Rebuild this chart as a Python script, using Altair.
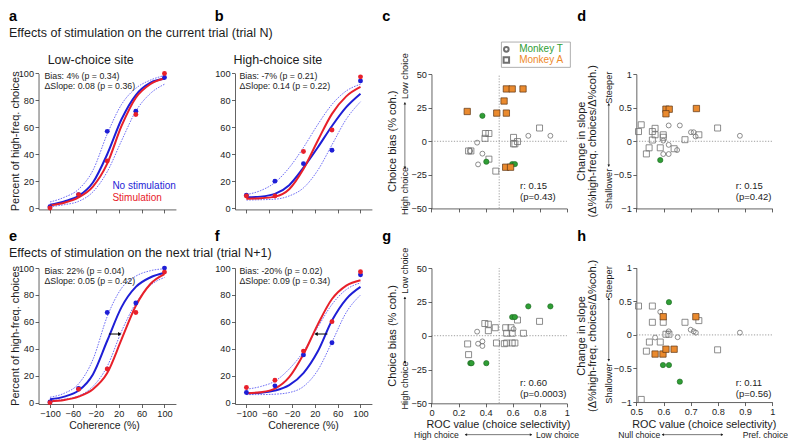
import altair as alt
import pandas as pd

# ------------------------------------------------------------------ data
coherence = [-100, -50, 0, 50, 100]
fit_coherence = [-100, -75, -50, -25, 0, 25, 50, 75, 100]

# (a) low-choice site, current trial
a_no_stim = [1, 10, 57, 72, 97]
a_stim = [0, 10, 35, 69.5, 100]
a_fit_no_stim = [2.5, 5, 9, 19, 40, 66, 84, 93, 96]
a_fit_stim = [2, 4, 8, 16, 33, 61, 82, 92, 96.5]
a_ci_upper = [4.5, 8, 14, 28, 55, 77, 89, 95, 98.5]
a_ci_lower = [1, 2.5, 5, 12, 27, 50, 72, 85, 92]

# (b) high-choice site, current trial
b_no_stim = [9.5, 20, 33, 43, 94.5]
b_stim = [9, 9, 42, 58, 97.5]
b_fit_no_stim = [8, 8.5, 10.5, 17, 30, 45, 61, 75, 85]
b_fit_stim = [7, 7.3, 8.5, 14, 29, 50, 70, 83, 90]
b_ci_upper = [10, 13, 19, 30, 45, 62, 77, 87, 92]
b_ci_lower = [6, 6.2, 6.6, 9, 15, 28, 47, 66, 79]

# (e) low-choice site, next trial
e_no_stim = [0.5, 10.5, 67, 74, 100]
e_stim = [0, 10, 25, 67, 97]
e_fit_no_stim = [2.5, 4.5, 9, 21, 46, 71, 86, 93, 96.5]
e_fit_stim = [1, 2, 4.5, 10, 22, 47, 72, 88, 95.5]
e_ci_upper = [4, 7, 14, 32, 64, 85, 94, 98, 99.5]
e_ci_lower = [1.5, 2.5, 5, 12, 27, 53, 74, 87, 93]
e_arrow_from, e_arrow_to, e_arrow_level = 3, 22, 51

# (f) high-choice site, next trial
f_no_stim = [7.5, 12.5, 35.5, 44.5, 95]
f_stim = [11.3, 16.6, 38.3, 60.2, 97.3]
f_fit_no_stim = [7, 7.4, 9, 13, 22, 38, 61, 77, 86]
f_fit_stim = [7, 7.8, 10.5, 19, 36, 58, 77, 87, 91]
f_ci_upper = [10, 12, 16, 25, 38, 56, 73, 84, 89]
f_ci_lower = [6, 6, 6.3, 7.5, 12, 24, 45, 67, 80]
f_arrow_from, f_arrow_to, f_arrow_level = 42, 22, 51

# (c) choice bias vs ROC, current trial
c_T_roc = [0.337, 0.286, 0.376, 0.344, 0.715, 0.878]
c_T_bias = [-1, -7.2, -9.2, -17.2, 4.1, 4.1]
c_A_roc = [0.274, 0.291, 0.398, 0.424, 0.395, 0.424, 0.475, 0.606, 0.606, 0.635, 0.616, 0.798]
c_A_bias = [-7.2, -7.2, 5.8, 5.8, 2.2, -13.3, -22.2, 2.9, -1.9, -0.2, -1.9, 9.9]
c_Tsig_roc = [0.376, 0.405, 0.596, 0.616]
c_Tsig_bias = [19, -15.2, -17, -17]
c_Asig_roc = [0.264, 0.482, 0.553, 0.536, 0.553, 0.596, 0.676, 0.548, 0.584]
c_Asig_bias = [22.2, 21, 21, 30, 39, 39, 39, -19.3, -19.3]

# (d) change in slope vs ROC, current trial
d_T_roc = [0.619, 0.66, 0.701, 0.711, 0.718, 0.599, 0.619, 0.599, 0.619, 0.65, 0.881]
d_T_slope = [0.236, 0.236, 0.135, 0.135, 0.072, 0.01, -0.053, -0.19, -0.19, -0.13, 0.082]
d_A_roc = [0.518, 0.508, 0.559, 0.569, 0.569, 0.559, 0.599, 0.599, 0.547, 0.537, 0.588, 0.639, 0.679, 0.73, 0.799]
d_A_slope = [0.246, 0.145, 0.145, 0.193, 0.097, 0.019, 0.097, 0.06, -0.097, -0.188, -0.097, -0.111, 0.024, 0.097, 0.198]
d_Tsig_roc = [0.588]
d_Tsig_slope = [-0.28]
d_Asig_roc = [0.609, 0.621, 0.609, 0.721]
d_Asig_slope = [0.478, 0.478, 0.41, 0.488]

# (g) choice bias vs ROC, next trial
g_T_roc = [0.337, 0.344, 0.376, 0.376, 0.606]
g_T_bias = [3, -5.9, -4.2, -7.6, 4.9]
g_A_roc = [0.267, 0.274, 0.394, 0.42, 0.42, 0.471, 0.48, 0.548, 0.555, 0.587, 0.596, 0.555, 0.538, 0.596, 0.616, 0.635, 0.679, 0.798]
g_A_bias = [-6.1, -14, 9, 8.5, 3.7, 5.9, -5.4, 5.9, 1.8, 5.9, 1.8, -5.4, -5.9, -5.4, -5.4, 11.6, 1.8, 10.6]
g_Tsig_roc = [0.287, 0.296, 0.405, 0.596, 0.616, 0.715, 0.878]
g_Tsig_bias = [-20.3, -20.3, -20.3, 13.8, 13.8, 21.7, 21.7]
g_Asig_roc = []
g_Asig_bias = []

# (h) change in slope vs ROC, next trial
h_T_roc = [0.588, 0.619, 0.7, 0.711, 0.719, 0.652, 0.881, 0.569]
h_T_slope = [0.343, 0.053, 0.077, 0.053, 0.034, -0.034, 0.034, -0.039]
h_A_roc = [0.508, 0.559, 0.559, 0.599, 0.679, 0.73, 0.609, 0.62, 0.548, 0.588, 0.537, 0.799, 0.518]
h_A_slope = [0.43, 0.43, 0.188, 0.188, 0.188, 0.213, 0.01, 0.01, -0.106, -0.106, -0.242, -0.222, -0.961]
h_Tsig_roc = [0.62, 0.598, 0.62, 0.66]
h_Tsig_slope = [0.488, -0.449, -0.449, -0.696]
h_Asig_roc = [0.599, 0.719, 0.569, 0.598, 0.609, 0.639]
h_Asig_slope = [0.271, 0.271, -0.285, -0.285, -0.213, -0.213]

# tick values
psy_x_ticks = [-100, -60, -20, 20, 60, 100]
psy_y_ticks = [0, 20, 40, 60, 80, 100]
roc_full_ticks = [0, 0.2, 0.4, 0.6, 0.8, 1]
roc_half_ticks = [0.5, 0.6, 0.7, 0.8, 0.9, 1]
bias_ticks = [-50, -25, 0, 25, 50]
slope_ticks = [-1, -0.5, 0, 0.5, 1]

# ------------------------------------------------------------------ layout helpers
W, H = 780, 432
FONT = "Liberation Sans"
TXT = "#1c1c1c"
AXC = "#3c3c3c"
BLUE = "#1e1ed6"
RED = "#e8202a"
CI = "#4a4af2"
GRAY = "#707070"
GREEN_F, GREEN_S = "#2f9e35", "#1b6420"
ORANGE_F, ORANGE_S = "#ea8a2e", "#5a3414"


def sx(v):
    return round((v - 2) * W / 792, 2)


def sy(v):
    return round((v - 2) * H / 444, 2)


GEOM = {
    "a": dict(xd=[-120, 120], xp=[33, 172.5], yd=[-1, 100], yp=[209, 69.3], xt=psy_x_ticks, yt=psy_y_ticks, xl=False),
    "b": dict(xd=[-120, 120], xp=[232.5, 371.5], yd=[-1, 100], yp=[209, 69.3], xt=psy_x_ticks, yt=psy_y_ticks, xl=False),
    "e": dict(xd=[-120, 120], xp=[33, 172.5], yd=[-1, 100], yp=[409, 269.3], xt=psy_x_ticks, yt=psy_y_ticks, xl=True),
    "f": dict(xd=[-120, 120], xp=[232.5, 371.5], yd=[-1, 100], yp=[409, 269.3], xt=psy_x_ticks, yt=psy_y_ticks, xl=True),
    "c": dict(xd=[0, 1], xp=[432, 569.5], yd=[-50, 50], yp=[208, 70], xt=roc_full_ticks, yt=bias_ticks, xl=False),
    "g": dict(xd=[0, 1], xp=[432, 569.5], yd=[-50, 50], yp=[408.3, 269.3], xt=roc_full_ticks, yt=bias_ticks, xl=True),
    "d": dict(xd=[0.5, 1], xp=[640, 778], yd=[-1, 1], yp=[208, 70], xt=roc_half_ticks, yt=slope_ticks, xl=False),
    "h": dict(xd=[0.5, 1], xp=[640, 778], yd=[-1, 1], yp=[407, 269], xt=roc_half_ticks, yt=slope_ticks, xl=True),
}

AXIS_STYLE = dict(
    title=None, grid=False, format=".3~g", tickSize=3.5, tickWidth=0.8, domainWidth=0.8,
    domainColor=AXC, tickColor=AXC, labelColor=TXT, labelFont=FONT, labelFontSize=9.2,
    labelPadding=1.5, labelFlush=False, labelOverlap=False,
)


def xscale(g):
    return alt.Scale(domain=g["xd"], range=[sx(g["xp"][0]), sx(g["xp"][1])], nice=False, zero=False)


def yscale(g):
    return alt.Scale(domain=g["yd"], range=[sy(g["yp"][0]), sy(g["yp"][1])], nice=False, zero=False)


def X(g, field, axis=False):
    ax = None
    if axis:
        ax = alt.Axis(orient="bottom", offset=round(sy(g["yp"][0]) - H, 2), values=g["xt"],
                      labels=g["xl"], **AXIS_STYLE)
    return alt.X(f"{field}:Q", scale=xscale(g), axis=ax)


def Y(g, field, axis=False):
    ax = None
    if axis:
        ax = alt.Axis(orient="left", offset=-sx(g["xp"][0]), values=g["yt"], **AXIS_STYLE)
    return alt.Y(f"{field}:Q", scale=yscale(g), axis=ax)


DUMMY = pd.DataFrame({"k": [0]})


def label(s, x, y, size=9.0, color=TXT, align="left", angle=0, weight="normal"):
    return alt.Chart(DUMMY).mark_text(
        text=s, align=align, baseline="middle", angle=angle, font=FONT,
        fontSize=size, fontWeight=weight, color=color,
    ).encode(x=alt.value(sx(x)), y=alt.value(sy(y)))


def vline_arrow(x, y0, y1):
    return [
        alt.Chart(DUMMY).mark_rule(color=TXT, strokeWidth=0.6).encode(
            x=alt.value(sx(x)), y=alt.value(sy(y0)), y2=alt.value(sy(y1))),
        alt.Chart(DUMMY).mark_point(shape="triangle-up", filled=True, color=TXT, size=7, opacity=1).encode(
            x=alt.value(sx(x)), y=alt.value(sy(y0) + 1)),
        alt.Chart(DUMMY).mark_point(shape="triangle-down", filled=True, color=TXT, size=7, opacity=1).encode(
            x=alt.value(sx(x)), y=alt.value(sy(y1) - 1)),
    ]


def hline_arrow(x0, x1, y):
    return [
        alt.Chart(DUMMY).mark_rule(color=TXT, strokeWidth=0.6).encode(
            x=alt.value(sx(x0)), x2=alt.value(sx(x1)), y=alt.value(sy(y))),
        alt.Chart(DUMMY).mark_point(shape="triangle-left", filled=True, color=TXT, size=7, opacity=1).encode(
            x=alt.value(sx(x0) + 1), y=alt.value(sy(y))),
        alt.Chart(DUMMY).mark_point(shape="triangle-right", filled=True, color=TXT, size=7, opacity=1).encode(
            x=alt.value(sx(x1) - 1), y=alt.value(sy(y))),
    ]


def psych_panel(key, no_stim, stim, fit_no, fit_st, ci_up, ci_lo, arrow=None):
    g = GEOM[key]
    pts = pd.DataFrame({"coh": coherence, "no_stim": no_stim, "stim": stim})
    fit = pd.DataFrame({"coh": fit_coherence, "no_stim": fit_no, "stim": fit_st,
                        "ci_up": ci_up, "ci_lo": ci_lo})
    out = []
    for col in ("ci_up", "ci_lo"):
        out.append(alt.Chart(fit).mark_line(color=CI, strokeWidth=0.8, strokeDash=[1.6, 1.2],
                                            interpolate="monotone").encode(x=X(g, "coh"), y=Y(g, col)))
    out.append(alt.Chart(fit).mark_line(color=BLUE, strokeWidth=2, interpolate="monotone").encode(
        x=X(g, "coh"), y=Y(g, "no_stim")))
    out.append(alt.Chart(fit).mark_line(color=RED, strokeWidth=2, interpolate="monotone").encode(
        x=X(g, "coh"), y=Y(g, "stim")))
    out.append(alt.Chart(pts).mark_circle(size=24, color=BLUE, opacity=1).encode(
        x=X(g, "coh", axis=True), y=Y(g, "no_stim", axis=True)))
    out.append(alt.Chart(pts).mark_circle(size=24, color=RED, opacity=1).encode(
        x=X(g, "coh"), y=Y(g, "stim")))
    if arrow is not None:
        a0, a1, lvl = arrow
        adf = pd.DataFrame({"x0": [a0], "x1": [a1], "y": [lvl]})
        out.append(alt.Chart(adf).mark_rule(color="black", strokeWidth=1).encode(
            x=X(g, "x0"), x2="x1:Q", y=Y(g, "y")))
        shape = "triangle-right" if a1 > a0 else "triangle-left"
        out.append(alt.Chart(adf).mark_point(shape=shape, filled=True, color="black", size=16, opacity=1).encode(
            x=X(g, "x1"), y=Y(g, "y")))
    return out


def scatter_panel(key, t_roc, t_val, a_roc, a_val, ts_roc, ts_val, as_roc, as_val, with_vline):
    g = GEOM[key]
    out = []
    href = pd.DataFrame({"x0": [g["xd"][0]], "x1": [g["xd"][1]], "y": [0]})
    out.append(alt.Chart(href).mark_rule(color="#858585", strokeWidth=0.8, strokeDash=[1.2, 1.6]).encode(
        x=X(g, "x0", axis=True), x2="x1:Q", y=Y(g, "y", axis=True)))
    if with_vline:
        vref = pd.DataFrame({"x": [0.5], "y0": [g["yd"][0]], "y1": [g["yd"][1]]})
        out.append(alt.Chart(vref).mark_rule(color="#858585", strokeWidth=0.8, strokeDash=[1.2, 1.6]).encode(
            x=X(g, "x"), y=Y(g, "y0"), y2="y1:Q"))
    out.append(alt.Chart(pd.DataFrame({"roc": t_roc, "v": t_val})).mark_point(
        shape="circle", filled=False, color=GRAY, size=24, strokeWidth=0.8, opacity=1).encode(
        x=X(g, "roc"), y=Y(g, "v")))
    out.append(alt.Chart(pd.DataFrame({"roc": a_roc, "v": a_val})).mark_point(
        shape="square", filled=False, color=GRAY, size=36, strokeWidth=0.8, opacity=1).encode(
        x=X(g, "roc"), y=Y(g, "v")))
    if ts_roc:
        out.append(alt.Chart(pd.DataFrame({"roc": ts_roc, "v": ts_val})).mark_point(
            shape="circle", filled=True, color=GREEN_F, stroke=GREEN_S, strokeWidth=0.6, size=28, opacity=1).encode(
            x=X(g, "roc"), y=Y(g, "v")))
    if as_roc:
        out.append(alt.Chart(pd.DataFrame({"roc": as_roc, "v": as_val})).mark_point(
            shape="square", filled=True, color=ORANGE_F, stroke=ORANGE_S, strokeWidth=0.7, size=40, opacity=1).encode(
            x=X(g, "roc"), y=Y(g, "v")))
    return out


layers = []

# ---------------- psychometric panels
layers += psych_panel("a", a_no_stim, a_stim, a_fit_no_stim, a_fit_stim, a_ci_upper, a_ci_lower)
layers += psych_panel("b", b_no_stim, b_stim, b_fit_no_stim, b_fit_stim, b_ci_upper, b_ci_lower)
layers += psych_panel("e", e_no_stim, e_stim, e_fit_no_stim, e_fit_stim, e_ci_upper, e_ci_lower,
                      arrow=(e_arrow_from, e_arrow_to, e_arrow_level))
layers += psych_panel("f", f_no_stim, f_stim, f_fit_no_stim, f_fit_stim, f_ci_upper, f_ci_lower,
                      arrow=(f_arrow_from, f_arrow_to, f_arrow_level))

# ---------------- scatter panels
layers += scatter_panel("c", c_T_roc, c_T_bias, c_A_roc, c_A_bias, c_Tsig_roc, c_Tsig_bias,
                        c_Asig_roc, c_Asig_bias, True)
layers += scatter_panel("d", d_T_roc, d_T_slope, d_A_roc, d_A_slope, d_Tsig_roc, d_Tsig_slope,
                        d_Asig_roc, d_Asig_slope, False)
layers += scatter_panel("g", g_T_roc, g_T_bias, g_A_roc, g_A_bias, g_Tsig_roc, g_Tsig_bias,
                        g_Asig_roc, g_Asig_bias, True)
layers += scatter_panel("h", h_T_roc, h_T_slope, h_A_roc, h_A_slope, h_Tsig_roc, h_Tsig_slope,
                        h_Asig_roc, h_Asig_slope, False)

# ---------------- panel letters and headings
for letter, lx, ly in [("a", 3, 11), ("b", 212, 11), ("c", 382, 11), ("d", 580, 11),
                       ("e", 3, 237.5), ("f", 212, 237), ("g", 382, 237.5), ("h", 580, 237.5)]:
    layers.append(label(letter, lx, ly, size=14.5, weight="bold", color="black"))

layers.append(label("Effects of stimulation on the current trial (trial N)", 3, 28, size=12.5))
layers.append(label("Effects of stimulation on the next trial (trial N+1)", 3, 253.5, size=12.5))
layers.append(label("Low-choice site", 86, 55, size=12.5, align="center"))
layers.append(label("High-choice site", 276, 55, size=12.5, align="center"))

# bias annotations
for bx, by, t1, t2 in [(39, 72, "Bias: 4% (p = 0.34)", "ΔSlope: 0.08 (p = 0.36)"),
                       (237, 72, "Bias: -7% (p = 0.21)", "ΔSlope: 0.14 (p = 0.22)"),
                       (39, 272, "Bias: 22% (p = 0.04)", "ΔSlope: 0.05 (p = 0.42)"),
                       (237, 272, "Bias: -20% (p = 0.02)", "ΔSlope: 0.09 (p = 0.34)")]:
    layers.append(label(t1, bx, by, size=8.8))
    layers.append(label(t2, bx, by + 10.5, size=8.8))

layers.append(label("No stimulation", 108, 185, size=10, color=BLUE))
layers.append(label("Stimulation", 108, 197, size=10, color=RED))

# y titles of psychometric panels
layers.append(label("Percent of  high-freq. choices", 10, 139, size=11, align="center", angle=270))
layers.append(label("Percent of  high-freq. choices", 10, 339, size=11, align="center", angle=270))
layers.append(label("Coherence (%)", 100, 431.5, size=10.5, align="center"))
layers.append(label("Coherence (%)", 302, 431.5, size=10.5, align="center"))

# scatter y titles and direction labels
for top in (0, 200):
    layers.append(label("Choice bias (% coh.)", 393, 139 + top, size=11, align="center", angle=270))
    layers.append(label("Low choice", 405, 72 + top, size=9.2, align="center", angle=270))
    layers.append(label("High choice", 405, 190 + top, size=9.2, align="center", angle=270))
    layers += vline_arrow(405, 99 + top, 167 + top)
    layers.append(label("Change in slope", 585, 139 + top, size=11, align="center", angle=270))
    layers.append(label("(Δ%high-freq. choices/Δ%coh.)", 596, 139 + top, size=11, align="center", angle=270))
    layers.append(label("Steeper", 612, 84 + top, size=9.2, align="center", angle=270))
    layers.append(label("Shallower", 612, 188 + top, size=9.2, align="center", angle=270))
    layers += vline_arrow(612, 100 + top, 165 + top)

# r values
for rx, ry, t1, t2 in [(522, 185, "r: 0.15", "(p=0.43)"), (741, 185, "r: 0.15", "(p=0.42)"),
                       (522, 387, "r: 0.60", "(p=0.0003)"), (741, 387, "r: 0.11", "(p=0.56)")]:
    layers.append(label(t1, rx, ry, size=9.5))
    layers.append(label(t2, rx, ry + 11.5, size=9.5))

# bottom x titles of scatter panels
layers.append(label("ROC value (choice selectivity)", 500, 430.5, size=10.8, align="center"))
layers.append(label("ROC value (choice selectivity)", 709, 430.5, size=10.8, align="center"))
layers.append(label("High choice", 437, 440.5, size=8.6, align="center"))
layers += hline_arrow(466, 534, 440.5)
layers.append(label("Low choice", 560, 440.5, size=8.6, align="center"))
layers.append(label("Null choice", 643, 440.5, size=8.6, align="center"))
layers += hline_arrow(666, 728, 440.5)
layers.append(label("Pref. choice", 771, 440.5, size=8.6, align="center"))

# legend box in panel c
layers.append(alt.Chart(DUMMY).mark_rect(fill="white", stroke="#9a9a9a", strokeWidth=0.8).encode(
    x=alt.value(sx(503)), x2=alt.value(sx(573)), y=alt.value(sy(37)), y2=alt.value(sy(63))))
layers.append(alt.Chart(DUMMY).mark_point(shape="circle", filled=False, color=GRAY, size=22, opacity=1).encode(
    x=alt.value(sx(508)), y=alt.value(sy(44.5))))
layers.append(alt.Chart(DUMMY).mark_point(shape="square", filled=False, color=GRAY, size=30, opacity=1).encode(
    x=alt.value(sx(508)), y=alt.value(sy(55.5))))
layers.append(label("Monkey T", 521, 44.5, size=10, color="#2f9e35"))
layers.append(label("Monkey A", 521, 55.5, size=10, color="#ee8a2a"))

chart = alt.layer(*layers).resolve_scale(x="independent", y="independent").properties(
    width=W, height=H, padding=0, autosize=alt.AutoSizeParams(type="none"), background="white"
).configure_view(stroke=None)

chart.save("out.html", embed_options={"renderer": "svg", "actions": False})
